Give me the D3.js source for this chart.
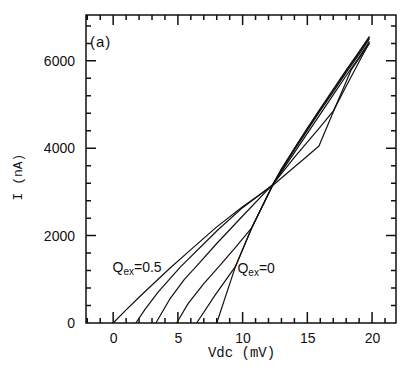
<!DOCTYPE html>
<html><head><meta charset="utf-8">
<script src="https://cdn.jsdelivr.net/npm/d3@7"></script>
<style>body{margin:0;background:#fff}svg{display:block}</style>
</head><body>
<svg id="c" width="408" height="374" viewBox="0 0 408 374"></svg>
<script>
// ---- data (Vdc in mV, I in nA) ----
const vQ05 = [0, 1, 2, 3, 4.4, 6, 8, 10, 12.3, 13, 14, 14.8, 15.9, 17, 18.4, 19.8];
const iQ05 = [0, 300, 590, 870, 1260, 1680, 2200, 2660, 3140, 3320, 3570, 3770, 4050, 4830, 5800, 6400];
const vQ04 = [1.75, 2.5, 3.5, 5.2, 8.1, 10, 12.3, 13, 14, 15, 16, 17, 18, 19, 19.8];
const iQ04 = [0, 330, 720, 1285, 2134, 2640, 3160, 3420, 3790, 4140, 4490, 4850, 5420, 5980, 6420];
const vQ03 = [3.3, 4.4, 5.5, 6.44, 8, 10, 12.35, 13, 14, 15, 16, 17, 18, 19, 19.8];
const iQ03 = [0, 560, 1000, 1300, 1820, 2450, 3180, 3460, 3900, 4340, 4780, 5220, 5660, 6080, 6450];
const vQ02 = [4.9, 5.8, 7, 8.2, 9.5, 10.7, 12.4, 13, 14, 15, 16, 17, 18, 19, 19.8];
const iQ02 = [0, 450, 900, 1300, 1750, 2175, 3200, 3500, 3960, 4410, 4860, 5290, 5730, 6150, 6510];
const vQ01 = [6.45, 7.9, 9.45, 10.7, 12.4, 13, 14, 15, 16, 17, 18, 19, 19.8];
const iQ01 = [0, 650, 1295, 2175, 3200, 3510, 3980, 4440, 4890, 5330, 5770, 6190, 6540];
const vQ00 = [8.0, 9.45, 10.7, 12.4, 13, 14, 15, 16, 17, 18, 19, 19.8];
const iQ00 = [0, 1295, 2175, 3210, 3530, 4000, 4460, 4910, 5350, 5790, 6210, 6560];

const xMajor = [0, 5, 10, 15, 20];
const xMinor = [-2, -1, 1, 2, 3, 4, 6, 7, 8, 9, 11, 12, 13, 14, 16, 17, 18, 19, 21];
const yMajor = [0, 2000, 4000, 6000];
const yMinor = [400, 800, 1200, 1600, 2400, 2800, 3200, 3600, 4400, 4800, 5200, 5600, 6400, 6800];

const seriesV = [vQ05, vQ04, vQ03, vQ02, vQ01, vQ00];
const seriesI = [iQ05, iQ04, iQ03, iQ02, iQ01, iQ00];

// ---- layout ----
const L = 86, R = 396, T = 15, B = 323;
const x = d3.scaleLinear().domain([-2.1, 21.85]).range([L, R]);
const y = d3.scaleLinear().domain([0, 7050]).range([B, T]);

const svg = d3.select("#c");
const tickFont = "Liberation Sans, Arial, sans-serif";
const ink = "#111";

// tick labels through d3 axes
function labelAxis(g) {
  g.select(".domain").remove();
  g.selectAll(".tick line").remove();
  g.selectAll("text").attr("font-family", tickFont).attr("font-size", 14).attr("fill", ink);
}
svg.append("g").attr("transform", `translate(0,${B})`)
  .call(d3.axisBottom(x).tickValues(xMajor).tickSize(0).tickPadding(10).tickFormat(d3.format("d")))
  .call(labelAxis);
svg.append("g").attr("transform", `translate(${L},0)`)
  .call(d3.axisLeft(y).tickValues(yMajor).tickSize(0).tickPadding(11).tickFormat(d3.format("d")))
  .call(labelAxis);

// curves
const line = d3.line().x(d => x(d[0])).y(d => y(d[1]));
seriesV.forEach((vs, k) => {
  const pts = vs.map((v, j) => [v, seriesI[k][j]]);
  svg.append("path").attr("d", line(pts)).attr("fill", "none")
    .attr("stroke", ink).attr("stroke-width", 1.2).attr("stroke-linejoin", "round");
});

// frame with inward tick marks, traced as one continuous outline path
const xTicks = xMajor.map(d => [d, 11]).concat(xMinor.map(d => [d, 5])).sort((a, b) => a[0] - b[0]);
const yTicks = yMajor.map(d => [d, 10]).concat(yMinor.map(d => [d, 5])).sort((a, b) => a[0] - b[0]);
const outline = [[L, B]];
xTicks.forEach(([d, n]) => { const px = x(d); outline.push([px, B], [px, B - n], [px, B]); });
outline.push([R, B]);
yTicks.forEach(([d, n]) => { const py = y(d); outline.push([R, py], [R - n, py], [R, py]); });
outline.push([R, T]);
xTicks.slice().reverse().forEach(([d, n]) => { const px = x(d); outline.push([px, T], [px, T + Math.min(n, 10)], [px, T]); });
outline.push([L, T]);
yTicks.slice().reverse().forEach(([d, n]) => { const py = y(d); outline.push([L, py], [L + n, py], [L, py]); });
outline.push([L, B]);
svg.append("path").attr("d", d3.line()(outline)).attr("fill", "none")
  .attr("stroke", ink).attr("stroke-width", 1.5).attr("stroke-linejoin", "miter").attr("stroke-linecap", "butt");

// axis titles
const monoFont = "Liberation Mono, Courier New, monospace";
svg.append("text").attr("x", (L + R) / 2 + 0.5).attr("y", 357).attr("text-anchor", "middle")
  .attr("font-family", monoFont).attr("font-size", 14).attr("fill", ink).text("Vdc (mV)");
svg.append("text").attr("transform", "translate(22,177) rotate(-90)").attr("text-anchor", "middle")
  .attr("font-family", monoFont).attr("font-size", 13).attr("fill", ink).text("I (nA)");

// panel label
svg.append("text").attr("x", 90).attr("y", 47).attr("font-family", tickFont).attr("font-size", 15)
  .attr("letter-spacing", 1).attr("fill", ink).text("(a)");

// curve labels
function qLabel(px, py, val) {
  const t = svg.append("text").attr("x", px).attr("y", py).attr("font-family", tickFont)
    .attr("font-size", 14).attr("fill", ink);
  t.append("tspan").text("Q");
  t.append("tspan").attr("font-size", 10).attr("dy", 3).text("ex");
  t.append("tspan").attr("dy", -3).text("=" + val);
}
qLabel(x(-0.05), y(1170), "0.5");
qLabel(x(9.6), y(1150), "0");
</script>
</body></html>
